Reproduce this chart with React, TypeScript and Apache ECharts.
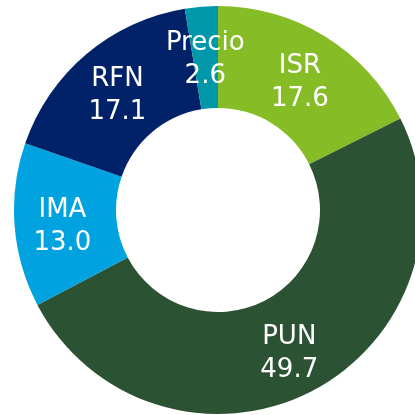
import React, { useEffect, useRef } from "react";
import * as echarts from "echarts";

const categories = ["ISR", "PUN", "IMA", "RFN", "Precio"];
const values = [17.6, 49.7, 13.0, 17.1, 2.6];
const colors = ["#86BC25", "#2C5234", "#00A3E0", "#012169", "#0097A9"];

export default function App() {
  const ref = useRef<HTMLDivElement>(null);
  useEffect(() => {
    if (!ref.current) return;
    const chart = echarts.init(ref.current, null, { renderer: "svg" });
    chart.setOption({
      animation: false,
      series: [
        {
          type: "pie",
          center: [218, 210],
          radius: [102, 204],
          startAngle: 90,
          clockwise: true,
          avoidLabelOverlap: false,
          label: {
            show: true,
            position: "inside",
            formatter: (p: any) => `${p.name}\n${p.value.toFixed(1)}`,
            color: "#ffffff",
            fontFamily: "DejaVu Sans",
            fontSize: 26,
            lineHeight: 33,
            offset: [0, 3],
          },
          labelLine: { show: false },
          itemStyle: { borderWidth: 0 },
          emphasis: { disabled: true },
          data: categories.map((c, i) => ({
            name: c,
            value: values[i],
            itemStyle: { color: colors[i] },
          })),
        },
      ],
    });
    return () => chart.dispose();
  }, []);
  return (
    <div
      ref={ref}
      style={{ position: "fixed", left: 0, top: 0, width: 415, height: 415 }}
    />
  );
}
